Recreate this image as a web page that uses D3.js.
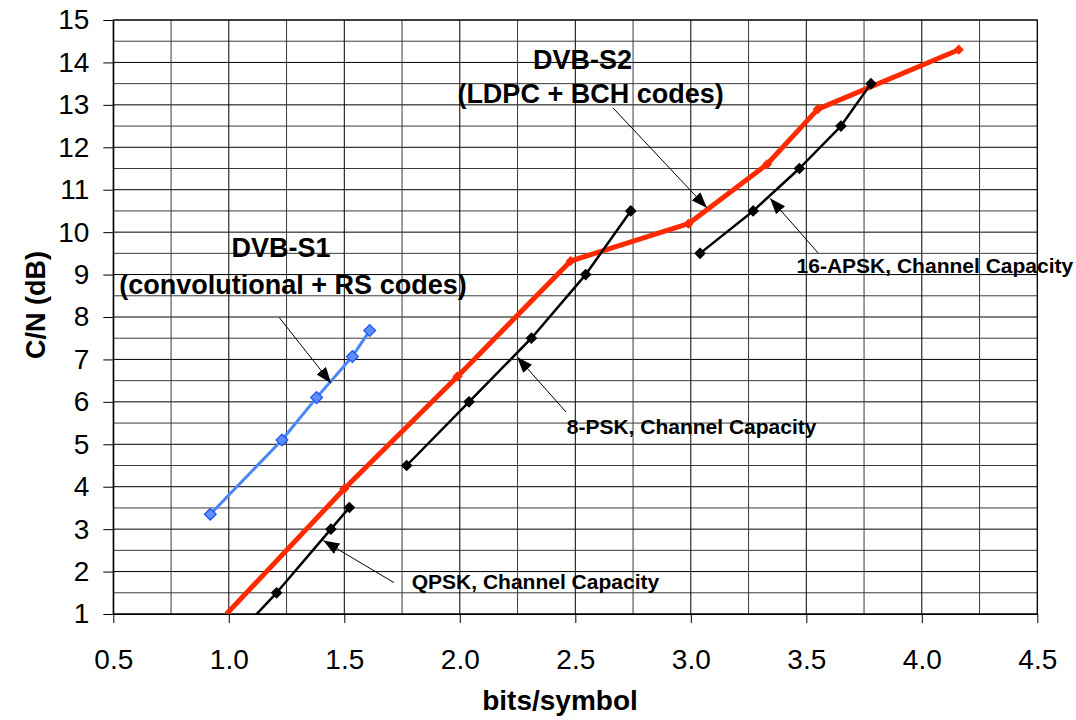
<!DOCTYPE html>
<html>
<head>
<meta charset="utf-8">
<title>C/N vs bits/symbol</title>
<script src="https://cdn.jsdelivr.net/npm/d3@7"></script>
<style>
    body { margin: 0; background: #fff; }
    svg { font-family: "Liberation Sans", Arial, sans-serif; }
    .grid line { stroke: #000; stroke-width: 1px; }
    .grid line.minor { stroke: #3a3a3a; }
    .axis text { font-size: 28px; fill: #000; }
    .axis line, .axis path { stroke: #000; stroke-width: 1px; }
    .note { font-weight: bold; fill: #000; }
    .arrow { stroke: #000; stroke-width: 1px; fill: none; }
</style>
</head>
<body>
<svg></svg>

<script>
    var vWidth = 1076;
    var vHeight = 720;

    // tick labels
    var xTicks = [0.5, 1.0, 1.5, 2.0, 2.5, 3.0, 3.5, 4.0, 4.5];
    var yTicks = [1, 2, 3, 4, 5, 6, 7, 8, 9, 10, 11, 12, 13, 14, 15];

    // DVB-S1 (convolutional + RS codes)
    var s1Bits = [0.92, 1.23, 1.38, 1.535, 1.61];
    var s1CN   = [3.35, 5.1, 6.1, 7.07, 7.68];

    // DVB-S2 (LDPC + BCH codes)
    var s2Bits = [0.99, 1.5, 1.99, 2.48, 2.99, 3.33, 3.55, 4.16];
    var s2CN   = [1.0, 3.95, 6.6, 9.32, 10.2, 11.6, 12.9, 14.3];

    // channel capacity curves
    var qpskBits = [1.0, 1.207, 1.442, 1.522];
    var qpskCN   = [0.3, 1.5, 3.0, 3.51];
    var psk8Bits = [1.77, 2.04, 2.31, 2.545, 2.74];
    var psk8CN   = [4.5, 6.0, 7.5, 9.0, 10.5];
    var apskBits = [3.04, 3.27, 3.47, 3.65, 3.78];
    var apskCN   = [9.5, 10.5, 11.5, 12.5, 13.5];

    function zip(a, b) { return a.map(function (v, i) { return [v, b[i]]; }); }

    var series = [
        {name: 'DVB-S1', pts: zip(s1Bits, s1CN), color: '#4a86f5', width: 3, mSize: 70, mFill: '#5b8ff9', mStroke: '#1f4ff0'},
        {name: 'DVB-S2', pts: zip(s2Bits, s2CN), color: '#ff2a00', width: 5, mSize: 36, mFill: '#ff2a00', mStroke: '#ff2a00'},
        {name: 'QPSK', pts: zip(qpskBits, qpskCN), color: '#000', width: 2.5, mSize: 50, mFill: '#000', mStroke: '#000'},
        {name: '8-PSK', pts: zip(psk8Bits, psk8CN), color: '#000', width: 2.5, mSize: 50, mFill: '#000', mStroke: '#000'},
        {name: '16-APSK', pts: zip(apskBits, apskCN), color: '#000', width: 2.5, mSize: 50, mFill: '#000', mStroke: '#000'}
    ];

    // annotation texts, placed in chart units
    var notes = [
        {t: 'DVB-S1', x: 1.226, y: 9.41, size: 27, anchor: 'middle'},
        {t: '(convolutional + RS codes)', x: 1.278, y: 8.54, size: 27, anchor: 'middle'},
        {t: 'DVB-S2', x: 2.531, y: 13.84, size: 27, anchor: 'middle'},
        {t: '(LDPC + BCH codes)', x: 2.566, y: 13.05, size: 27, anchor: 'middle'},
        {t: 'QPSK, Channel Capacity', x: 1.792, y: 1.59, size: 21, anchor: 'start'},
        {t: '8-PSK, Channel Capacity', x: 2.463, y: 5.24, size: 21, anchor: 'start'},
        {t: '16-APSK, Channel Capacity', x: 3.458, y: 9.04, size: 21, anchor: 'start'}
    ];
    var arrows = [
        [[1.218, 7.99], [1.443, 6.44]],
        [[2.663, 12.93], [3.070, 10.57]],
        [[3.551, 9.51], [3.343, 10.80]],
        [[2.46, 5.76], [2.248, 7.06]],
        [[1.715, 1.74], [1.409, 2.73]]
    ];

    var svg = d3.select('svg')
        .attr('width', vWidth)
        .attr('height', vHeight);

    var x = d3.scaleLinear().domain([0.5, 4.5]).range([113.3, 1037.3]);
    var y = d3.scaleLinear().domain([1, 15]).range([614, 20]);

    svg.append('defs').append('clipPath').attr('id', 'plotClip')
        .append('rect')
        .attr('x', x(0.5)).attr('y', y(15))
        .attr('width', x(4.5) - x(0.5)).attr('height', y(1) - y(15));

    var defs = svg.select('defs');
    defs.append('marker')
        .attr('id', 'head')
        .attr('markerUnits', 'userSpaceOnUse')
        .attr('viewBox', '0 0 16 12')
        .attr('markerWidth', 16).attr('markerHeight', 12)
        .attr('refX', 16).attr('refY', 6)
        .attr('orient', 'auto')
        .append('path').attr('d', 'M0,0L16,6L0,12Z').attr('fill', '#000');

    // grid
    var grid = svg.append('g').attr('class', 'grid');
    grid.selectAll('line.h')
        .data(d3.range(1, 15.01, 0.5))
        .enter().append('line')
        .attr('class', function (d) { return 'h' + (d % 1 ? ' minor' : ''); })
        .attr('x1', x(0.5)).attr('x2', x(4.5))
        .attr('y1', function (d) { return y(d); })
        .attr('y2', function (d) { return y(d); });
    grid.selectAll('line.v')
        .data(d3.range(0.5, 4.51, 0.25))
        .enter().append('line')
        .attr('class', function (d) { return 'v' + ((d * 2) % 1 ? ' minor' : ''); })
        .attr('y1', y(1)).attr('y2', y(15))
        .attr('x1', function (d) { return x(d); })
        .attr('x2', function (d) { return x(d); });

    // axes
    svg.append('g').attr('class', 'axis')
        .attr('transform', 'translate(0,' + y(1) + ')')
        .call(d3.axisBottom(x).tickValues(xTicks).tickSize(9).tickSizeOuter(0)
            .tickPadding(26).tickFormat(d3.format('.1f')));
    svg.append('g').attr('class', 'axis')
        .attr('transform', 'translate(' + x(0.5) + ',0)')
        .call(d3.axisLeft(y).tickValues(yTicks).tickSize(10).tickSizeOuter(0)
            .tickPadding(14).tickFormat(d3.format('d')));
    svg.selectAll('.axis').attr('font-family', null).attr('font-size', null);

    svg.append('rect')
        .attr('x', x(0.5)).attr('y', y(15))
        .attr('width', x(4.5) - x(0.5)).attr('height', y(1) - y(15))
        .attr('fill', 'none').attr('stroke', '#000');

    // series
    var line = d3.line()
        .x(function (d) { return x(d[0]); })
        .y(function (d) { return y(d[1]); });
    var square = d3.symbol().type(d3.symbolSquare);

    var plot = svg.append('g').attr('clip-path', 'url(#plotClip)');
    series.forEach(function (s) {
        plot.append('path')
            .attr('d', line(s.pts))
            .attr('fill', 'none')
            .attr('stroke', s.color)
            .attr('stroke-width', s.width)
            .attr('stroke-linejoin', 'round');
        plot.selectAll(null)
            .data(s.pts.filter(function (d) { return d[1] > 1; }))
            .enter().append('path')
            .attr('d', square.size(s.mSize))
            .attr('transform', function (d) {
                return 'translate(' + x(d[0]) + ',' + y(d[1]) + ') rotate(45)';
            })
            .attr('fill', s.mFill)
            .attr('stroke', s.mStroke)
            .attr('stroke-width', 1.2);
    });

    // annotations
    svg.selectAll('line.arrow')
        .data(arrows)
        .enter().append('line')
        .attr('class', 'arrow')
        .attr('x1', function (d) { return x(d[0][0]); })
        .attr('y1', function (d) { return y(d[0][1]); })
        .attr('x2', function (d) { return x(d[1][0]); })
        .attr('y2', function (d) { return y(d[1][1]); })
        .attr('marker-end', 'url(#head)');

    svg.selectAll('text.note')
        .data(notes)
        .enter().append('text')
        .attr('class', 'note')
        .attr('x', function (d) { return x(d.x); })
        .attr('y', function (d) { return y(d.y); })
        .attr('text-anchor', function (d) { return d.anchor; })
        .attr('font-size', function (d) { return d.size; })
        .text(function (d) { return d.t; });

    // axis titles
    svg.append('text')
        .attr('class', 'note')
        .attr('font-size', 27)
        .attr('text-anchor', 'middle')
        .attr('transform', 'translate(45,305) rotate(-90)')
        .text('C/N (dB)');
    svg.append('text')
        .attr('class', 'note')
        .attr('font-size', 28)
        .attr('text-anchor', 'middle')
        .attr('x', 560).attr('y', 710)
        .text('bits/symbol');
</script>
</body>
</html>
